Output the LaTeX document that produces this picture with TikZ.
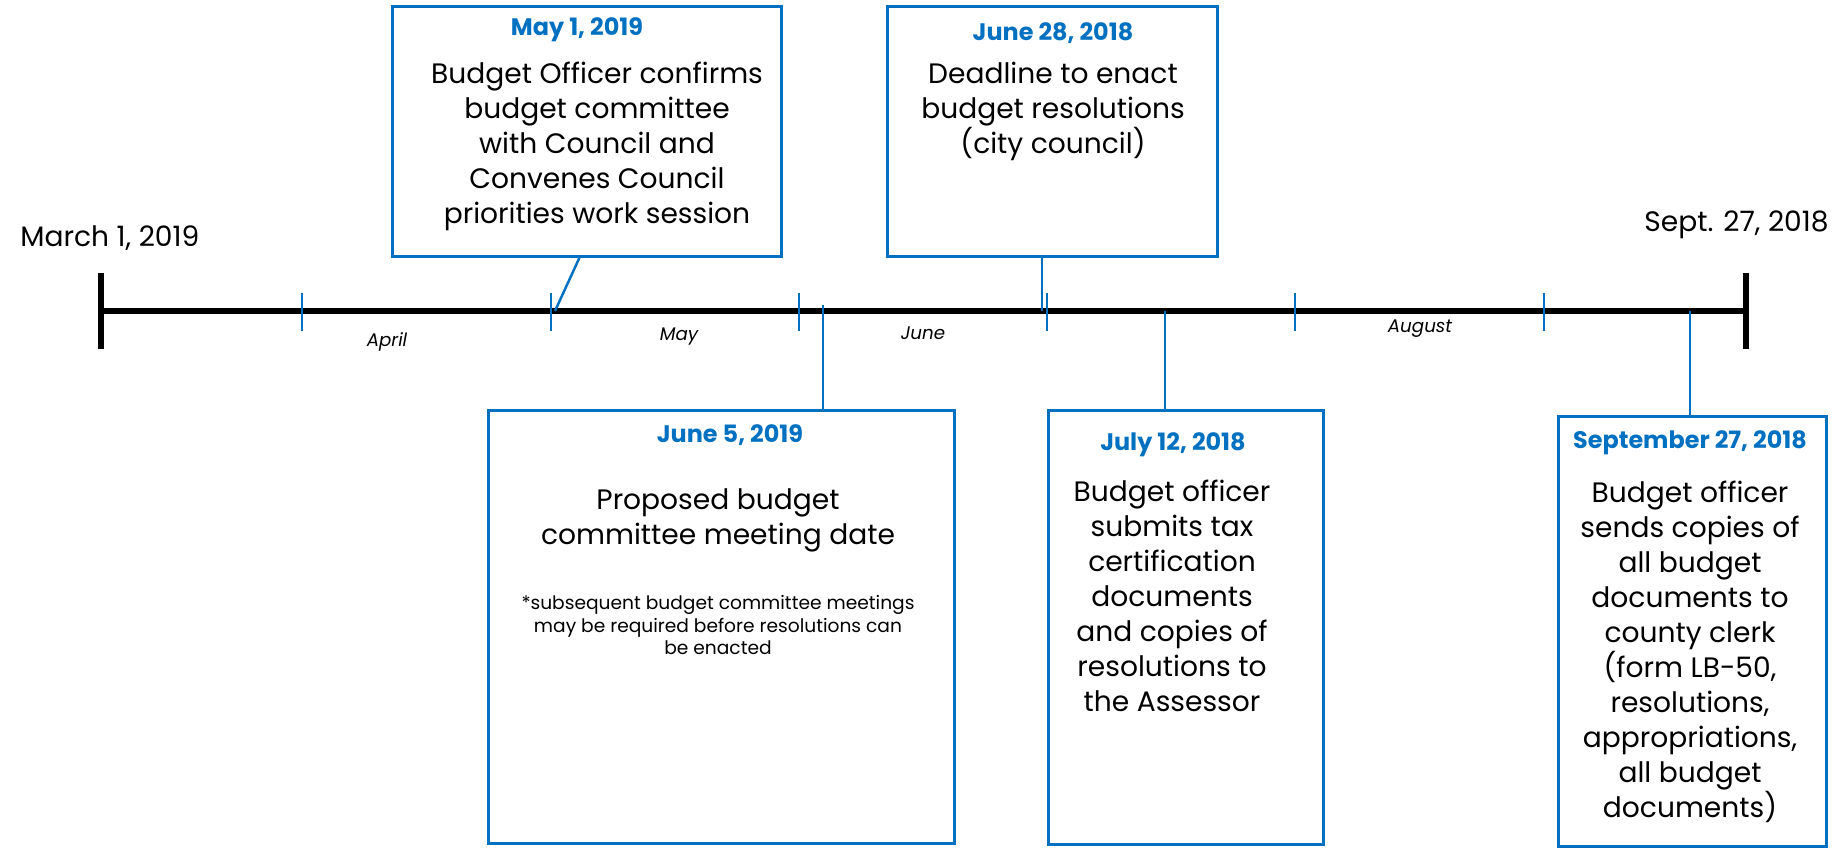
\documentclass[tikz,border=0pt]{standalone}
\usepackage{fontspec}
\setmainfont{Poppins}
\usetikzlibrary{positioning}
\definecolor{evblue}{RGB}{0,112,192}

\begin{document}
\begin{tikzpicture}[x=0.1mm,y=-0.1mm,
        axis/.style={line width=1.7pt},
        monthtick/.style={evblue,line width=0.45pt},
        evbox/.style={draw=evblue,line width=0.8pt,anchor=north west,inner sep=0pt},
        evlink/.style={evblue,line width=0.7pt},
        evdate/.style={text=evblue,font=\fontsize{6.8}{8}\selectfont\bfseries},
        evtext/.style={align=center,font=\fontsize{8}{9.96}\selectfont},
        evnote/.style={align=center,font=\fontsize{5.3}{6.4}\selectfont},
        month/.style={font=\fontsize{5.2}{6}\selectfont\itshape},
        ends/.style={font=\fontsize{8}{9.96}\selectfont}]
    \useasboundingbox (0,0) rectangle (1848,848);

    % time axis
    \coordinate (start) at (101,311);
    \coordinate (end) at (1746,311);
    \draw[axis] (start) -- (end);
    \draw[axis] (start) ++(0,-38) -- ++(0,76);
    \draw[axis] (end) ++(0,-38) -- ++(0,76);
    \foreach \x in {302,551,799,1047,1295,1544}
        \draw[monthtick] (\x,293) -- (\x,331);

    \node[ends,anchor=west] (first) at (8,238) {March 1, 2019};
    \node[ends,anchor=east] (last) at (1841,225) {Sept. 27, 2018};

    \node[month] (april) at (387,342) {April};
    \node[month] (may) at (679,337) {May};
    \node[month] (june) at (923,333) {June};
    \node[month] (august) at (1420,329) {August};

    % points on the axis
    \coordinate (may1pt) at (555,311);
    \coordinate (jun5pt) at (823,305);
    \coordinate (jun28pt) at (1042,311);
    \coordinate (jul12pt) at (1165,311);
    \coordinate (sep27pt) at (1690,311);

    % boxes above
    \node[evbox,minimum width=38.9mm,minimum height=25mm] (may1) at (391,5) {};
    \node[evdate] (may1d) at (577,30) {May 1, 2019};
    \node[evtext] (may1t) at (597,146) {Budget Officer confirms\\budget committee\\with Council and\\Convenes Council\\priorities work session};
    \draw[evlink] (may1pt) -- ([xshift=-0.75mm]may1.south);

    \node[evbox,minimum width=33mm,minimum height=25mm] (jun28) at (886,5) {};
    \node[evdate] (jun28d) at (1053,33) {June 28, 2018};
    \node[evtext] (jun28t) at (1053,111) {Deadline to enact\\budget resolutions\\(city council)};
    \draw[evlink] (jun28pt) -- (jun28pt |- jun28.south);

    % boxes below
    \node[evbox,minimum width=46.6mm,minimum height=43.3mm] (jun5) at (487,409) {};
    \node[evdate] (jun5d) at (730,435) {June 5, 2019};
    \node[evtext] (jun5t) at (718,520) {Proposed budget\\committee meeting date};
    \node[evnote] (jun5n) at (718,625) {*subsequent budget committee meetings\\may be required before resolutions can\\be enacted};
    \draw[evlink] (jun5pt) -- (jun5pt |- jun5.north);

    \node[evbox,minimum width=27.5mm,minimum height=43.4mm] (jul12) at (1047,409) {};
    \node[evdate] (jul12d) at (1173,445) {July 12, 2018};
    \node[evtext] (jul12t) at (1172,596) {Budget officer\\submits tax\\certification\\documents\\and copies of\\resolutions to\\the Assessor};
    \draw[evlink] (jul12pt) -- (jul12pt |- jul12.north);

    \node[evbox,minimum width=26.8mm,minimum height=43mm] (sep27) at (1557,415) {};
    \node[evdate] (sep27d) at (1690,443) {September 27, 2018};
    \node[evtext] (sep27t) at (1690,652) {Budget officer\\sends copies of\\all budget\\documents to\\county clerk\\(form LB-50,\\resolutions,\\appropriations,\\all budget\\documents)};
    \draw[evlink] (sep27pt) -- (sep27pt |- sep27.north);
\end{tikzpicture}
\end{document}
